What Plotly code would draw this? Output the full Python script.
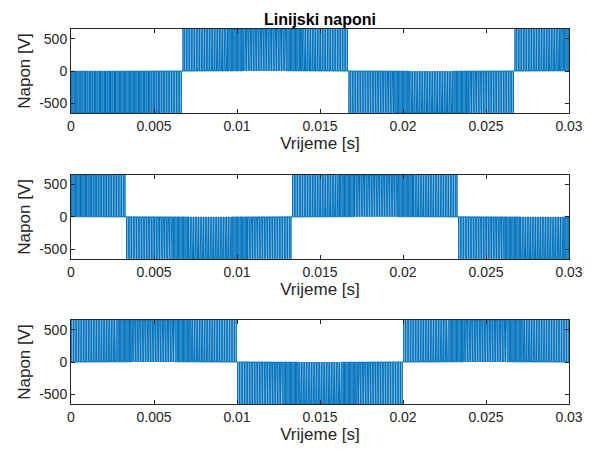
import numpy as np
import plotly.graph_objects as go

# ---- data ----
title_text = "Linijski naponi"
x_label = "Vrijeme [s]"
y_label = "Napon [V]"
t_end = 0.03
vdc = 650                      # pulse amplitude [V]
half_period = 0.01             # length of one polarity block [s]
carrier_period = 1e-4          # spacing of PWM pulses [s]

# start times and polarity of each half-cycle block, per panel
starts_ab = [-0.00333, 0.00667, 0.01667, 0.02667]
signs_ab = [-1, 1, -1, 1]
starts_bc = [-0.00667, 0.00333, 0.01333, 0.02333]
signs_bc = [1, -1, 1, -1]
starts_ca = [0.0, 0.01, 0.02]
signs_ca = [1, -1, 1]

# estimated pulse duty across one half-cycle block
duty_profile = [0.02, 0.07, 0.12, 0.16, 0.21, 0.25, 0.29, 0.33, 0.37, 0.41,
                0.44, 0.47, 0.50, 0.52, 0.54, 0.56, 0.58, 0.59, 0.60, 0.60,
                0.60, 0.60, 0.59, 0.58, 0.56, 0.54, 0.52, 0.50, 0.47, 0.44,
                0.41, 0.37, 0.33, 0.29, 0.25, 0.21, 0.16, 0.12, 0.07, 0.02]

x_tickvals = [0, 0.005, 0.01, 0.015, 0.02, 0.025, 0.03]
x_ticktext = ["0", "0.005", "0.01", "0.015", "0.02", "0.025", "0.03"]
y_tickvals = [-500, 0, 500]
y_ticktext = ["-500", "0", "500"]


def pulse_train(starts, signs):
    xs, ys = [0.0], [0.0]
    n = int(round(t_end / carrier_period))
    for k in range(n):
        t0 = k * carrier_period
        tc = t0 + carrier_period / 2
        sgn, rel = 0, 0.0
        for s, g in zip(starts, signs):
            if s <= tc < s + half_period:
                sgn, rel = g, (tc - s) / half_period
        if sgn == 0:
            continue
        d = duty_profile[min(int(rel * len(duty_profile)), len(duty_profile) - 1)]
        a = t0 + (1 - d) / 2 * carrier_period
        b = t0 + (1 + d) / 2 * carrier_period
        xs += [a, a, b, b]
        ys += [0, sgn * vdc, sgn * vdc, 0]
    xs.append(t_end)
    ys.append(0.0)
    return xs, ys


panels = [(starts_ab, signs_ab), (starts_bc, signs_bc), (starts_ca, signs_ca)]
domains = [[0.776, 1.0], [0.387, 0.611], [0.0, 0.224]]

fig = go.Figure()
font_family = "Liberation Sans, Arial, Helvetica, sans-serif"
axis_color = "#262626"

for i, ((st, sg), dom) in enumerate(zip(panels, domains), start=1):
    xs, ys = pulse_train(st, sg)
    sfx = "" if i == 1 else str(i)
    fig.add_trace(go.Scatter(x=xs, y=ys, mode="lines",
                             line=dict(color="#0072BD", width=1.0),
                             xaxis="x" + sfx, yaxis="y" + sfx,
                             showlegend=False, hoverinfo="skip"))
    common = dict(showline=True, linecolor=axis_color, linewidth=1, mirror="ticks",
                  ticks="inside", ticklen=4, tickcolor=axis_color, showgrid=False,
                  zeroline=False, automargin=False,
                  tickfont=dict(family=font_family, size=14, color=axis_color))
    fig.layout["xaxis" + sfx] = dict(
        common, domain=[0, 1], anchor="y" + sfx, range=[0, t_end],
        tickvals=x_tickvals, ticktext=x_ticktext,
        title=dict(text=x_label, font=dict(family=font_family, size=17, color=axis_color), standoff=2))
    fig.layout["yaxis" + sfx] = dict(
        common, domain=dom, anchor="x" + sfx, range=[-vdc, vdc],
        tickvals=y_tickvals, ticktext=y_ticktext,
        title=dict(text=y_label, font=dict(family=font_family, size=17, color=axis_color), standoff=4))

# the page adds an 8 px body margin, so margins are reduced by 8 px on top/left
fig.update_layout(
    width=595, height=452,
    margin=dict(l=63, r=34, t=21, b=56),
    paper_bgcolor="white", plot_bgcolor="white",
    title=dict(text="<b>" + title_text + "</b>", x=0.5, xanchor="center",
               xref="paper", y=1 - 11 / 452, yanchor="middle",
               font=dict(family=font_family, size=16, color="black")),
)

fig.write_html("out.html")
